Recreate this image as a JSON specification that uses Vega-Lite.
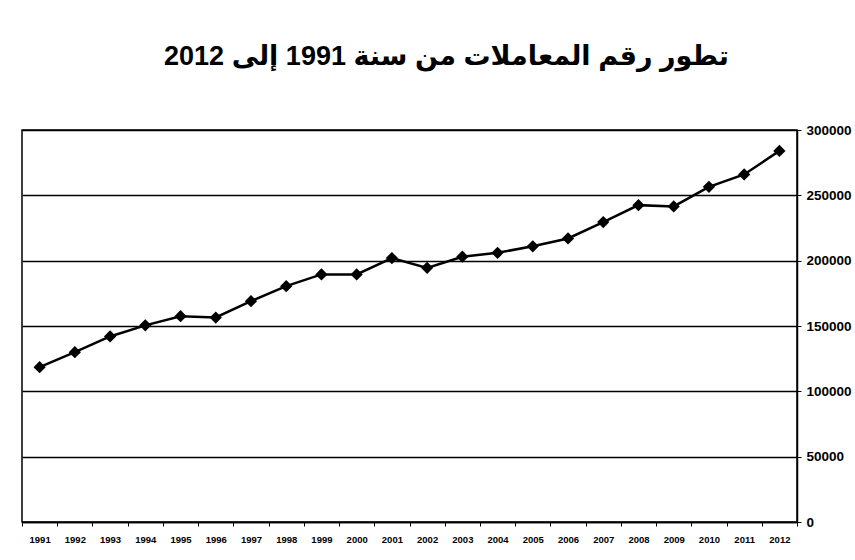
{
  "$schema": "https://vega.github.io/schema/vega-lite/v6.json",
  "width": 775,
  "height": 392,
  "autosize": {"type": "none"},
  "padding": {"left": 22, "top": 130, "right": 58, "bottom": 38},
  "background": "white",
  "title": {
    "text": "\u202Bتطور رقم المعاملات من سنة 1991 إلى 2012\u202C",
    "font": "Liberation Sans, DejaVu Sans",
    "fontSize": 27,
    "fontWeight": "bold",
    "color": "black",
    "anchor": "middle",
    "dx": 37,
    "offset": 52
  },
  "data": {
    "values": [
      {"year": "1991", "value": 118500},
      {"year": "1992", "value": 130000},
      {"year": "1993", "value": 142000},
      {"year": "1994", "value": 150500},
      {"year": "1995", "value": 157500},
      {"year": "1996", "value": 156500},
      {"year": "1997", "value": 169000},
      {"year": "1998", "value": 180500},
      {"year": "1999", "value": 189500},
      {"year": "2000", "value": 189500},
      {"year": "2001", "value": 202000},
      {"year": "2002", "value": 194500},
      {"year": "2003", "value": 203000},
      {"year": "2004", "value": 206000},
      {"year": "2005", "value": 211000},
      {"year": "2006", "value": 217000},
      {"year": "2007", "value": 229500},
      {"year": "2008", "value": 242500},
      {"year": "2009", "value": 241500},
      {"year": "2010", "value": 256500},
      {"year": "2011", "value": 266000},
      {"year": "2012", "value": 284000}
    ]
  },
  "encoding": {
    "x": {
      "field": "year",
      "type": "ordinal",
      "scale": {"type": "band", "paddingInner": 0, "paddingOuter": 0},
      "axis": {
        "title": null,
        "labelAngle": 0,
        "labelFont": "Liberation Sans",
        "labelFontSize": 9.5,
        "labelFontWeight": "bold",
        "labelColor": "black",
        "labelPadding": 8,
        "tickBand": "extent",
        "tickSize": 4,
        "tickColor": "black",
        "domainColor": "black",
        "domainWidth": 1.5,
        "grid": false
      }
    },
    "y": {
      "field": "value",
      "type": "quantitative",
      "scale": {"domain": [0, 300000]},
      "axis": {
        "orient": "right",
        "title": null,
        "values": [0, 50000, 100000, 150000, 200000, 250000, 300000],
        "format": "d",
        "labelFont": "Liberation Sans",
        "labelFontSize": 13.5,
        "labelFontWeight": "bold",
        "labelColor": "black",
        "labelPadding": 5,
        "tickSize": 4,
        "tickColor": "black",
        "domainColor": "black",
        "domainWidth": 1.5,
        "grid": true,
        "gridColor": "black",
        "gridWidth": 1.3,
        "gridOpacity": 1
      }
    }
  },
  "layer": [
    {"mark": {"type": "line", "color": "black", "strokeWidth": 2.5}},
    {"mark": {"type": "point", "shape": "diamond", "filled": true, "color": "black", "opacity": 1, "size": 150}}
  ],
  "config": {
    "view": {"stroke": "black", "strokeWidth": 1.5}
  }
}
